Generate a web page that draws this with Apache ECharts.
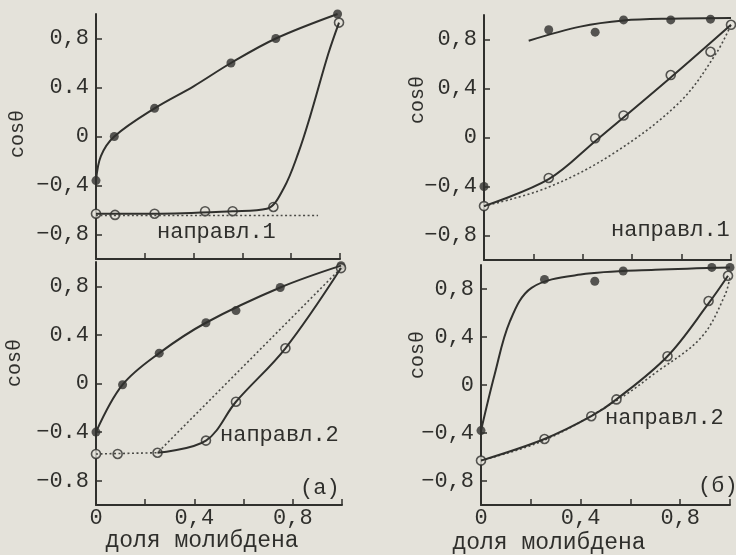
<!DOCTYPE html>
<html>
<head>
<meta charset="utf-8">
<script src="https://cdn.jsdelivr.net/npm/echarts@6/dist/echarts.min.js"></script>
<style>html,body{margin:0;padding:0;background:#e4e2da;}#c{width:736px;height:555px;}</style>
</head>
<body>
<div id="c"></div>
<script>
// ---- tick labels ----
const yTickValues = [-0.8, -0.4, 0, 0.4, 0.8];
const yLabelsTL = ["−0,8", "−0,4", "0", "0.4", "0,8"];
const yLabelsBL = ["−0.8", "−0.4", "0", "0.4", "0,8"];
const yLabelsTR = ["−0,8", "−0,4", "0", "0,4", "0,8"];
const yLabelsBR = ["−0,8", "−0,4", "0", "0,4", "0,8"];
const xTickValues = [0, 0.2, 0.4, 0.6, 0.8, 1.0];
const xLabelValues = [0, 0.4, 0.8];
const xLabels = ["0", "0,4", "0,8"];

// ---- panel (а), направл.1 (top left) ----
const tlFilledPts = [[0,-0.36],[0.075,0.0],[0.24,0.23],[0.553,0.60],[0.737,0.80],[0.99,1.0]];
const tlFilledCurve = [[0,-0.36],[0.02,-0.16],[0.075,0.0],[0.24,0.23],[0.4,0.41],[0.553,0.60],[0.737,0.80],[0.99,1.0]];
const tlOpenPts = [[0,-0.63],[0.078,-0.64],[0.24,-0.63],[0.447,-0.61],[0.56,-0.61],[0.727,-0.575],[0.996,0.93]];
const tlOpenCurve = [[0,-0.63],[0.24,-0.63],[0.56,-0.61],[0.7,-0.59],[0.77,-0.42],[0.83,-0.13],[0.877,0.16],[0.952,0.675],[0.996,0.93]];
const tlDotted = [[0,-0.645],[0.91,-0.645]];

// ---- panel (б), направл.1 (top right) ----
const trFilledPts = [[0,-0.40],[0.262,0.88],[0.45,0.86],[0.565,0.96],[0.756,0.96],[0.917,0.966]];
const trFilledCurve = [[0.181,0.79],[0.39,0.905],[0.565,0.955],[0.756,0.97],[1.0,0.975]];
const trOpenPts = [[0,-0.56],[0.262,-0.33],[0.45,-0.006],[0.565,0.18],[0.756,0.51],[0.917,0.70],[1.0,0.92]];
const trOpenCurve = [[0,-0.56],[0.262,-0.34],[0.45,-0.03],[0.756,0.49],[1.0,0.92]];
const trDotted = [[0,-0.56],[0.256,-0.41],[0.524,-0.13],[0.793,0.29],[0.941,0.69],[1.0,0.92]];

// ---- panel (а), направл.2 (bottom left) ----
const blFilledPts = [[0,-0.40],[0.108,-0.01],[0.257,0.25],[0.447,0.50],[0.569,0.60],[0.749,0.79],[0.996,0.97]];
const blFilledCurve = [[0,-0.40],[0.108,-0.01],[0.257,0.25],[0.447,0.50],[0.749,0.79],[0.996,0.97]];
const blOpenPts = [[0,-0.58],[0.088,-0.58],[0.25,-0.57],[0.447,-0.47],[0.569,-0.15],[0.77,0.29],[0.996,0.95]];
const blOpenCurve = [[0.25,-0.57],[0.447,-0.47],[0.569,-0.15],[0.77,0.29],[0.996,0.95]];
const blDotted = [[0,-0.58],[0.25,-0.57],[0.996,0.95]];

// ---- panel (б), направл.2 (bottom right) ----
const brFilledPts = [[0,-0.38],[0.255,0.88],[0.457,0.865],[0.571,0.95],[0.927,0.98],[1.0,0.98]];
const brFilledCurve = [[0,-0.38],[0.055,0.09],[0.116,0.53],[0.203,0.81],[0.4,0.92],[0.7,0.96],[1.0,0.98]];
const brOpenPts = [[0,-0.63],[0.255,-0.45],[0.443,-0.26],[0.544,-0.12],[0.749,0.24],[0.914,0.70],[0.992,0.91]];
const brOpenCurve = [[0,-0.63],[0.255,-0.45],[0.443,-0.26],[0.544,-0.12],[0.749,0.24],[0.914,0.68],[0.992,0.91]];
const brDotted = [[0,-0.63],[0.255,-0.46],[0.544,-0.13],[0.7,0.1],[0.886,0.4],[0.98,0.75],[1.0,0.9]];

const INK = '#30302d';
const BG = '#e4e2da';
const TXT = '#2f2f2c';
const FONT = 'Liberation Mono';

const panels = [
  {grid:{left:96, top:14, width:244, height:245}, yl:yLabelsTL, xlab:false, dsm:0.35,
   fc:tlFilledCurve, fp:tlFilledPts, oc:tlOpenCurve, op:tlOpenPts, dt:tlDotted},
  {grid:{left:484, top:15, width:247, height:245}, yl:yLabelsTR, xlab:false, dsm:0.35,
   fc:trFilledCurve, fp:trFilledPts, oc:trOpenCurve, op:trOpenPts, dt:trDotted},
  {grid:{left:96, top:262, width:246, height:243}, yl:yLabelsBL, xlab:true, dsm:false,
   fc:blFilledCurve, fp:blFilledPts, oc:blOpenCurve, op:blOpenPts, dt:blDotted},
  {grid:{left:481, top:265, width:249, height:240}, yl:yLabelsBR, xlab:true, dsm:0.35,
   fc:brFilledCurve, fp:brFilledPts, oc:brOpenCurve, op:brOpenPts, dt:brDotted}
];

const grids = [], xAxes = [], yAxes = [], series = [];
panels.forEach((p, i) => {
  grids.push(Object.assign({containLabel:false}, p.grid));
  xAxes.push({
    type:'value', gridIndex:i, min:0, max:1,
    axisLine:{show:true, onZero:false, lineStyle:{color:INK, width:2}},
    axisTick:{show:true, inside:true, length:6, customValues:xTickValues, lineStyle:{color:INK, width:1.5}},
    axisLabel:{show:p.xlab, customValues:xLabelValues, margin:2, color:TXT, fontFamily:FONT, fontSize:22,
      formatter:v => { const k = xLabelValues.findIndex(t => Math.abs(t - v) < 1e-6); return k >= 0 ? xLabels[k] : ''; }},
    splitLine:{show:false}
  });
  yAxes.push({
    type:'value', gridIndex:i, min:-1, max:1,
    axisLine:{show:true, onZero:false, lineStyle:{color:INK, width:2}},
    axisTick:{show:true, inside:true, length:6, customValues:yTickValues, lineStyle:{color:INK, width:1.5}},
    axisLabel:{show:true, customValues:yTickValues, margin:7, color:TXT, fontFamily:FONT, fontSize:22,
      formatter:v => { const k = yTickValues.findIndex(t => Math.abs(t - v) < 1e-6); return k >= 0 ? p.yl[k] : ''; }},
    splitLine:{show:false}
  });
  const base = {xAxisIndex:i, yAxisIndex:i, silent:true, animation:false, clip:false};
  series.push(Object.assign({type:'line', data:p.dt, showSymbol:false, smooth:p.dsm,
    lineStyle:{color:'#4a4a46', width:1.6, type:[2,2.5]}}, base));
  series.push(Object.assign({type:'line', data:p.fc, showSymbol:false, smooth:0.35,
    lineStyle:{color:INK, width:2}}, base));
  series.push(Object.assign({type:'line', data:p.oc, showSymbol:false, smooth:0.35,
    lineStyle:{color:INK, width:2}}, base));
  series.push(Object.assign({type:'scatter', data:p.fp, symbol:'circle', symbolSize:9,
    itemStyle:{color:INK}}, base));
  series.push(Object.assign({type:'scatter', data:p.op, symbol:'circle', symbolSize:9,
    itemStyle:{color:BG, borderColor:INK, borderWidth:1.6}}, base));
});

const txt = (x, y, text, size, align) => ({type:'text', x:x, y:y, silent:true,
  style:{text:text, fill:TXT, font:(size || 22) + 'px "Liberation Mono"', textAlign:align || 'left', textVerticalAlign:'middle'}});
const vtxt = (x, y, text) => ({type:'text', x:x, y:y, rotation:Math.PI/2, silent:true,
  style:{text:text, fill:TXT, font:'20px "Liberation Mono"', textAlign:'center', textVerticalAlign:'middle'}});

const graphics = [
  txt(157, 232, 'направл.1'),
  txt(611, 230, 'направл.1'),
  txt(220, 435, 'направл.2'),
  txt(605, 418, 'направл.2'),
  txt(300, 488, '(а)'),
  txt(698, 486, '(б)'),
  txt(202, 541, 'доля молибдена', 23, 'center'),
  txt(549, 543, 'доля молибдена', 23, 'center'),
  vtxt(18, 134, 'cosθ'),
  vtxt(15, 363, 'cosθ'),
  vtxt(418, 100, 'cosθ'),
  vtxt(418, 355, 'cosθ')
];

const chart = echarts.init(document.getElementById('c'), null, {renderer:'canvas'});
chart.setOption({
  backgroundColor:BG,
  animation:false,
  grid:grids, xAxis:xAxes, yAxis:yAxes, series:series,
  graphic:graphics
});
</script>
</body>
</html>
